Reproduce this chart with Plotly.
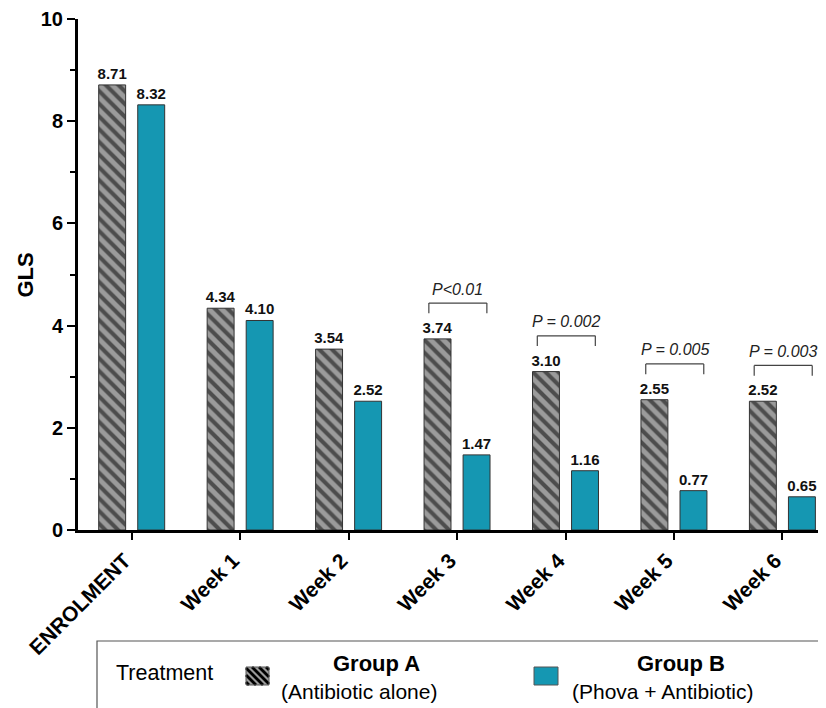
import plotly.graph_objects as go

categories = ["ENROLMENT", "Week 1", "Week 2", "Week 3", "Week 4", "Week 5", "Week 6"]
group_a = [8.71, 4.34, 3.54, 3.74, 3.10, 2.55, 2.52]
group_b = [8.32, 4.10, 2.52, 1.47, 1.16, 0.77, 0.65]
p_labels = ["", "", "", "P<0.01", "P = 0.002", "P = 0.005", "P = 0.003"]
y_ticks = [0, 2, 4, 6, 8, 10]
y_minor = [1, 3, 5, 7, 9]

# page is rendered with an 8px body margin; work in page coordinates and subtract it
OFF = 8
W, H = 826 - OFF, 708 - OFF
L, T, R, B = 78 - OFF, 19 - OFF, 826 - OFF, 530 - OFF
GRAY = "#9b9b9b"
TEAL = "#1597b2"
EDGE = "#333333"
FONT = "Liberation Sans"


def px(x):
    return (x - OFF - L) / (R - L)


def py(y):
    return (B - (y - OFF)) / (B - T)


xs = list(range(len(categories)))

fig = go.Figure()
fig.add_trace(go.Bar(
    x=xs, y=group_a, name="Group A",
    marker=dict(color=GRAY, line=dict(color=EDGE, width=1),
                pattern=dict(shape="\\", fgcolor="black", size=9, solidity=0.45)),
    texttemplate="%{y:.2f}", textposition="outside", constraintext="none",
    textfont=dict(family=FONT, size=15, color="#111", weight="bold"),
    cliponaxis=False, showlegend=False,
))
fig.add_trace(go.Bar(
    x=xs, y=group_b, name="Group B",
    marker=dict(color=TEAL, line=dict(color=EDGE, width=1)),
    texttemplate="%{y:.2f}", textposition="outside", constraintext="none",
    textfont=dict(family=FONT, size=15, color="#111", weight="bold"),
    cliponaxis=False, showlegend=False,
))

shapes = []
annotations = []

# significance brackets
for i, (a, lab) in enumerate(zip(group_a, p_labels)):
    if not lab:
        continue
    top = a + 0.70
    x0, x1 = i - 0.26, i + 0.275
    for (sx0, sy0, sx1, sy1) in [(x0, top - 0.2, x0, top), (x0, top, x1, top), (x1, top, x1, top - 0.2)]:
        shapes.append(dict(type="line", xref="x", yref="y", x0=sx0, y0=sy0, x1=sx1, y1=sy1,
                           line=dict(color="#444", width=1.2)))
    annotations.append(dict(x=(x0 + x1) / 2, y=top, xref="x", yref="y", text=lab, showarrow=False,
                            yanchor="middle", yshift=14,
                            font=dict(family=FONT, size=16, color="#222", style="italic")))

# y axis title
annotations.append(dict(x=px(25), y=0.5, xref="paper", yref="paper", text="<b>GLS</b>",
                        textangle=-90, showarrow=False, xanchor="center", yanchor="middle",
                        font=dict(family=FONT, size=22, color="black")))

# legend box
shapes.append(dict(type="rect", xref="paper", yref="paper", x0=px(97), y0=py(641), x1=px(840), y1=py(720),
                   line=dict(color="#555", width=1.2), fillcolor="rgba(0,0,0,0)"))

# legend swatch A (hatched)
ax0, ay0, ax1, ay1 = 246, 667, 269, 685
shapes.append(dict(type="rect", xref="paper", yref="paper", x0=px(ax0), y0=py(ay0), x1=px(ax1), y1=py(ay1),
                   fillcolor=GRAY, line=dict(width=0)))
for c in range(-20, 26, 7):
    k = ay0 - ax0 + c
    sx0 = max(ax0, ay0 - k)
    sx1 = min(ax1, ay1 - k)
    if sx1 - sx0 < 1:
        continue
    shapes.append(dict(type="line", xref="paper", yref="paper",
                       x0=px(sx0), y0=py(sx0 + k), x1=px(sx1), y1=py(sx1 + k),
                       line=dict(color="black", width=2.8)))
shapes.append(dict(type="rect", xref="paper", yref="paper", x0=px(ax0), y0=py(ay0), x1=px(ax1), y1=py(ay1),
                   fillcolor="rgba(0,0,0,0)", line=dict(color="#555", width=1)))
# legend swatch B
shapes.append(dict(type="rect", xref="paper", yref="paper", x0=px(534), y0=py(667), x1=px(558), y1=py(685),
                   fillcolor=TEAL, line=dict(color="#555", width=1)))

legend_texts = [
    ("Treatment", 164, 673, 21.5, False),
    ("Group A", 376, 663, 22, True),
    ("(Antibiotic alone)", 359, 691, 21, False),
    ("Group B", 681, 663, 22, True),
    ("(Phova + Antibiotic)", 663, 691, 21, False),
]
for txt, x, y, s, bold in legend_texts:
    annotations.append(dict(x=px(x), y=py(y), xref="paper", yref="paper", text=txt, showarrow=False,
                            xanchor="center", yanchor="middle",
                            font=dict(family=FONT, size=s, color="black",
                                      weight="bold" if bold else "normal")))

fig.update_layout(
    width=W, height=H,
    margin=dict(l=L, r=W - R, t=T, b=H - B),
    paper_bgcolor="white", plot_bgcolor="white",
    barmode="group", bargap=0.28, bargroupgap=0.31,
    shapes=shapes, annotations=annotations,
    font=dict(family=FONT, color="black"),
    xaxis=dict(range=[-0.495, 6.402], tickvals=xs, ticktext=categories, tickangle=-45,
               showline=True, linecolor="black", linewidth=3, ticks="outside", ticklen=7,
               tickwidth=2, tickcolor="black", showgrid=False, zeroline=False,
               ticklabelshift=-7, ticklabeloverflow="allow",
               tickfont=dict(family=FONT, size=21, color="black", weight="bold")),
    yaxis=dict(range=[0, 10], tickvals=y_ticks, showline=True, linecolor="black", linewidth=3,
               ticks="outside", ticklen=8, tickwidth=2, tickcolor="black", showgrid=False,
               zeroline=False, ticklabeloverflow="allow",
               minor=dict(tickvals=y_minor, ticks="outside", ticklen=5, tickwidth=2, tickcolor="black"),
               tickfont=dict(family=FONT, size=20, color="black", weight="bold")),
)

fig.write_html("out.html")
